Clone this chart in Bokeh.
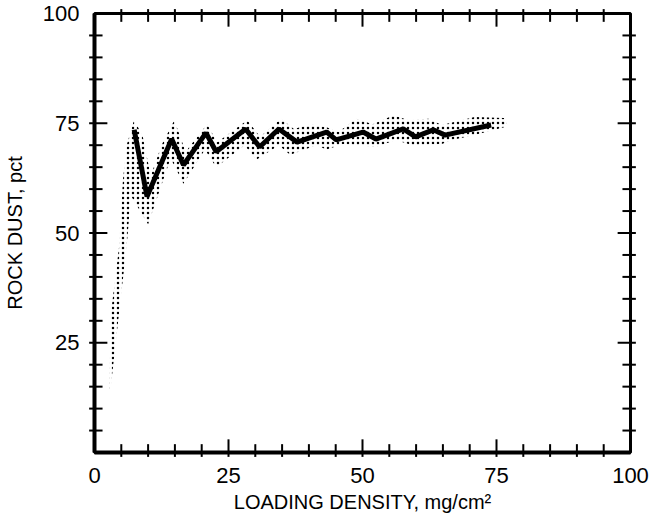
from bokeh.plotting import figure
from bokeh.models import Range1d, FixedTicker
from bokeh.embed import file_html
from bokeh.resources import INLINE

# --- data ---
line_x = [7.4, 9.8, 14.4, 16.6, 20.8, 22.7, 28.2, 30.8, 34.4, 37.8, 43.3, 45.1,
          50.1, 52.5, 57.6, 59.9, 63.2, 65.4, 74.0]
line_y = [73.5, 58.3, 71.4, 65.5, 72.8, 68.5, 73.7, 69.6, 73.7, 70.7, 73.0, 71.2,
          73.0, 71.4, 73.7, 71.9, 73.5, 72.3, 74.6]

band_upper_x = [2.7, 3.1, 4.6, 5.3, 6.0, 7.4, 9.0, 10.5, 12.5, 14.9, 17.0, 21.0,
                22.9, 28.5, 30.9, 34.8, 37.2, 40.3, 43.3, 45.5, 48.8, 51.9, 55.8,
                58.6, 62.3, 64.8, 70.9, 76.4, 77.0]
band_upper_y = [14.0, 32.0, 47.0, 62.0, 70.0, 75.8, 72.0, 63.0, 70.0, 75.7, 68.5, 74.8,
                70.7, 75.7, 71.9, 76.0, 73.7, 74.8, 74.1, 73.0, 76.0, 74.8, 76.8,
                75.7, 76.0, 74.6, 76.4, 76.2, 74.8]
band_lower_x = [76.4, 70.9, 66.7, 64.8, 59.3, 56.2, 52.5, 46.4, 43.3, 41.4, 36.5,
                34.4, 30.2, 28.0, 22.7, 20.6, 16.6, 14.2, 10.0, 6.8, 6.0, 4.6, 3.0]
band_lower_y = [74.1, 72.3, 71.2, 70.3, 70.0, 71.2, 69.6, 70.3, 69.0, 70.0, 67.8,
                70.0, 66.7, 70.0, 65.0, 69.0, 61.2, 67.0, 52.0, 58.5, 47.0, 32.0, 14.5]

x_ticks = [0, 25, 50, 75, 100]
x_tick_labels = ["0", "25", "50", "75", "100"]
y_ticks = [25, 50, 75, 100]
y_tick_labels = ["25", "50", "75", "100"]
minor_ticks = list(range(5, 100, 5))

FONT = "Liberation Sans"

p = figure(width=651, height=515, x_range=Range1d(0, 100), y_range=Range1d(0, 100),
           output_backend="svg", toolbar_location=None,
           min_border_left=86, min_border_right=21, min_border_top=13, min_border_bottom=61)
p.grid.visible = False
p.outline_line_color = "black"
p.outline_line_width = 3
p.background_fill_color = "white"
p.border_fill_color = "white"

# mean line
p.line(line_x, line_y, line_color="black", line_width=5)
# stippled band (black dots over the black line are invisible, so order is free)
p.patch(band_upper_x + band_lower_x, band_upper_y + band_lower_y,
        fill_alpha=0, line_alpha=0,
        hatch_pattern=".", hatch_color="black", hatch_scale=5, hatch_weight=3)

# inward ticks on all four sides, drawn from the tick lists (overlay level)
MAJ_X, MIN_X = 2.4, 1.5   # tick lengths along x (data units)
MAJ_Y, MIN_Y = 3.0, 1.9   # tick lengths along y (data units)
xs_major = [t for t in x_ticks if 0 < t < 100]
ys_major = [t for t in y_ticks if 0 < t < 100]
xs_minor = [t for t in minor_ticks if t not in xs_major]
ys_minor = [t for t in minor_ticks if t not in ys_major]
for xs, ln in ((xs_major, MAJ_Y), (xs_minor, MIN_Y)):
    for edge, sgn in ((0, 1), (100, -1)):
        p.segment(x0=xs, y0=[edge - sgn] * len(xs), x1=xs, y1=[edge + sgn * ln] * len(xs),
                  line_color="black", line_width=2, level="overlay")
for ys, ln in ((ys_major, MAJ_X), (ys_minor, MIN_X)):
    for edge, sgn in ((0, 1), (100, -1)):
        p.segment(x0=[edge - sgn] * len(ys), y0=ys, x1=[edge + sgn * ln] * len(ys), y1=ys,
                  line_color="black", line_width=2, level="overlay")

def style_axis(ax):
    ax.axis_line_width = 4
    ax.major_tick_line_color = None
    ax.minor_tick_line_color = None
    ax.major_label_text_font = FONT
    ax.major_label_text_font_size = "22px"
    ax.major_label_text_color = "black"
    ax.axis_label_text_font = FONT
    ax.axis_label_text_font_size = "20px"
    ax.axis_label_text_font_style = "normal"
    ax.axis_label_text_color = "black"
    if hasattr(ax, "background_fill_color"):
        ax.background_fill_color = None

xa = p.xaxis[0]
xa.ticker = FixedTicker(ticks=x_ticks)
xa.major_label_overrides = {t: l for t, l in zip(x_ticks, x_tick_labels)}
xa.axis_label = "LOADING DENSITY, mg/cm²"
style_axis(xa)
xa.major_label_standoff = 9
xa.axis_label_standoff = 5

ya = p.yaxis[0]
ya.ticker = FixedTicker(ticks=y_ticks)
ya.major_label_overrides = {t: l for t, l in zip(y_ticks, y_tick_labels)}
ya.axis_label = "ROCK DUST, pct"
style_axis(ya)
ya.major_label_standoff = 9
ya.axis_label_standoff = 14

open("out.html", "w").write(file_html(p, INLINE))
